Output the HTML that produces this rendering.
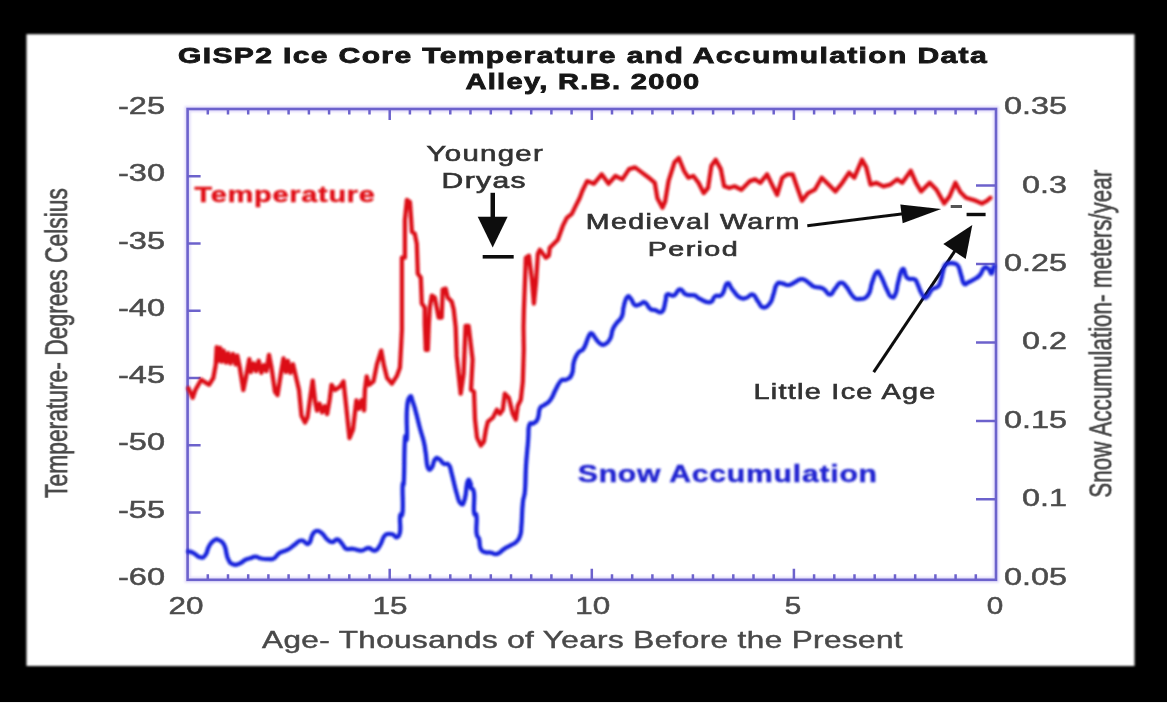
<!DOCTYPE html>
<html><head><meta charset="utf-8"><style>
html,body{margin:0;padding:0;background:#000;width:1167px;height:703px;overflow:hidden}
svg{position:absolute;left:0;top:0;display:block}
text{font-family:"Liberation Sans",sans-serif}
</style></head><body>
<svg width="1167" height="703" viewBox="0 0 1167 703">
<defs>
<filter id="b1" x="-5%" y="-5%" width="110%" height="110%"><feGaussianBlur stdDeviation="0.75 0.65"/></filter>
<filter id="b3" x="-2%" y="-2%" width="104%" height="104%"><feGaussianBlur stdDeviation="1.1"/></filter>
<filter id="b2" x="-5%" y="-5%" width="110%" height="110%"><feGaussianBlur stdDeviation="1.1 0.9"/></filter>
</defs>
<rect x="0" y="0" width="1167" height="703" fill="#000"/>
<rect x="26.5" y="34.2" width="1108" height="631.8" fill="#fff" filter="url(#b3)"/>
<rect x="0" y="702" width="1167" height="1" fill="#f4f4f4"/>
<g filter="url(#b2)"><rect x="187.6" y="109.0" width="808.4" height="470.79999999999995" fill="none" stroke="#e2dcfa" stroke-width="6"/></g>
<g filter="url(#b1)">
<rect x="187.6" y="109.0" width="808.4" height="470.79999999999995" fill="none" stroke="#6c62cc" stroke-width="2.6"/>
<path d="M207.8 579.8 v-5.5 M207.8 109.0 v5.5 M228.0 579.8 v-5.5 M228.0 109.0 v5.5 M248.2 579.8 v-5.5 M248.2 109.0 v5.5 M268.4 579.8 v-5.5 M268.4 109.0 v5.5 M288.6 579.8 v-5.5 M288.6 109.0 v5.5 M308.9 579.8 v-5.5 M308.9 109.0 v5.5 M329.1 579.8 v-5.5 M329.1 109.0 v5.5 M349.3 579.8 v-5.5 M349.3 109.0 v5.5 M369.5 579.8 v-5.5 M369.5 109.0 v5.5 M389.7 579.8 v-11 M389.7 109.0 v11 M409.9 579.8 v-5.5 M409.9 109.0 v5.5 M430.1 579.8 v-5.5 M430.1 109.0 v5.5 M450.3 579.8 v-5.5 M450.3 109.0 v5.5 M470.5 579.8 v-5.5 M470.5 109.0 v5.5 M490.8 579.8 v-5.5 M490.8 109.0 v5.5 M511.0 579.8 v-5.5 M511.0 109.0 v5.5 M531.2 579.8 v-5.5 M531.2 109.0 v5.5 M551.4 579.8 v-5.5 M551.4 109.0 v5.5 M571.6 579.8 v-5.5 M571.6 109.0 v5.5 M591.8 579.8 v-11 M591.8 109.0 v11 M612.0 579.8 v-5.5 M612.0 109.0 v5.5 M632.2 579.8 v-5.5 M632.2 109.0 v5.5 M652.4 579.8 v-5.5 M652.4 109.0 v5.5 M672.6 579.8 v-5.5 M672.6 109.0 v5.5 M692.9 579.8 v-5.5 M692.9 109.0 v5.5 M713.1 579.8 v-5.5 M713.1 109.0 v5.5 M733.3 579.8 v-5.5 M733.3 109.0 v5.5 M753.5 579.8 v-5.5 M753.5 109.0 v5.5 M773.7 579.8 v-5.5 M773.7 109.0 v5.5 M793.9 579.8 v-11 M793.9 109.0 v11 M814.1 579.8 v-5.5 M814.1 109.0 v5.5 M834.3 579.8 v-5.5 M834.3 109.0 v5.5 M854.5 579.8 v-5.5 M854.5 109.0 v5.5 M874.7 579.8 v-5.5 M874.7 109.0 v5.5 M895.0 579.8 v-5.5 M895.0 109.0 v5.5 M915.2 579.8 v-5.5 M915.2 109.0 v5.5 M935.4 579.8 v-5.5 M935.4 109.0 v5.5 M955.6 579.8 v-5.5 M955.6 109.0 v5.5 M975.8 579.8 v-5.5 M975.8 109.0 v5.5 M187.6 176.3 h13 M187.6 243.5 h13 M187.6 310.8 h13 M187.6 378.0 h13 M187.6 445.3 h13 M187.6 512.5 h13 M996.0 185.5 h-20 M996.0 263.9 h-20 M996.0 342.4 h-20 M996.0 420.9 h-20 M996.0 499.3 h-20" stroke="#6c62cc" stroke-width="2.5" fill="none"/>
<g><text x="165" y="114.0" font-size="24.5" fill="#4c4c4c" stroke="#4c4c4c" stroke-width="0.5" text-anchor="end" textLength="47" lengthAdjust="spacingAndGlyphs">-25</text><text x="165" y="181.3" font-size="24.5" fill="#4c4c4c" stroke="#4c4c4c" stroke-width="0.5" text-anchor="end" textLength="47" lengthAdjust="spacingAndGlyphs">-30</text><text x="165" y="248.5" font-size="24.5" fill="#4c4c4c" stroke="#4c4c4c" stroke-width="0.5" text-anchor="end" textLength="47" lengthAdjust="spacingAndGlyphs">-35</text><text x="165" y="315.8" font-size="24.5" fill="#4c4c4c" stroke="#4c4c4c" stroke-width="0.5" text-anchor="end" textLength="47" lengthAdjust="spacingAndGlyphs">-40</text><text x="165" y="383.0" font-size="24.5" fill="#4c4c4c" stroke="#4c4c4c" stroke-width="0.5" text-anchor="end" textLength="47" lengthAdjust="spacingAndGlyphs">-45</text><text x="165" y="450.3" font-size="24.5" fill="#4c4c4c" stroke="#4c4c4c" stroke-width="0.5" text-anchor="end" textLength="47" lengthAdjust="spacingAndGlyphs">-50</text><text x="165" y="517.5" font-size="24.5" fill="#4c4c4c" stroke="#4c4c4c" stroke-width="0.5" text-anchor="end" textLength="47" lengthAdjust="spacingAndGlyphs">-55</text><text x="165" y="584.8" font-size="24.5" fill="#4c4c4c" stroke="#4c4c4c" stroke-width="0.5" text-anchor="end" textLength="47" lengthAdjust="spacingAndGlyphs">-60</text><text x="1067" y="114.0" font-size="24.5" fill="#4c4c4c" stroke="#4c4c4c" stroke-width="0.5" text-anchor="end" textLength="63" lengthAdjust="spacingAndGlyphs">0.35</text><text x="1067" y="192.5" font-size="24.5" fill="#4c4c4c" stroke="#4c4c4c" stroke-width="0.5" text-anchor="end" textLength="45" lengthAdjust="spacingAndGlyphs">0.3</text><text x="1067" y="270.9" font-size="24.5" fill="#4c4c4c" stroke="#4c4c4c" stroke-width="0.5" text-anchor="end" textLength="63" lengthAdjust="spacingAndGlyphs">0.25</text><text x="1067" y="349.4" font-size="24.5" fill="#4c4c4c" stroke="#4c4c4c" stroke-width="0.5" text-anchor="end" textLength="45" lengthAdjust="spacingAndGlyphs">0.2</text><text x="1067" y="427.9" font-size="24.5" fill="#4c4c4c" stroke="#4c4c4c" stroke-width="0.5" text-anchor="end" textLength="63" lengthAdjust="spacingAndGlyphs">0.15</text><text x="1067" y="506.3" font-size="24.5" fill="#4c4c4c" stroke="#4c4c4c" stroke-width="0.5" text-anchor="end" textLength="45" lengthAdjust="spacingAndGlyphs">0.1</text><text x="1067" y="584.8" font-size="24.5" fill="#4c4c4c" stroke="#4c4c4c" stroke-width="0.5" text-anchor="end" textLength="63" lengthAdjust="spacingAndGlyphs">0.05</text><text x="186" y="613.8" font-size="24.5" fill="#4c4c4c" stroke="#4c4c4c" stroke-width="0.5" text-anchor="middle" textLength="35" lengthAdjust="spacingAndGlyphs">20</text><text x="390" y="613.8" font-size="24.5" fill="#4c4c4c" stroke="#4c4c4c" stroke-width="0.5" text-anchor="middle" textLength="35" lengthAdjust="spacingAndGlyphs">15</text><text x="592.8" y="613.8" font-size="24.5" fill="#4c4c4c" stroke="#4c4c4c" stroke-width="0.5" text-anchor="middle" textLength="35" lengthAdjust="spacingAndGlyphs">10</text><text x="792.9" y="613.8" font-size="24.5" fill="#4c4c4c" stroke="#4c4c4c" stroke-width="0.5" text-anchor="middle" textLength="16.5" lengthAdjust="spacingAndGlyphs">5</text><text x="995.1" y="613.8" font-size="24.5" fill="#4c4c4c" stroke="#4c4c4c" stroke-width="0.5" text-anchor="middle" textLength="16.5" lengthAdjust="spacingAndGlyphs">0</text><g transform="translate(67,498) rotate(-90) scale(1,1.45)"><text x="0" y="0" font-size="21.5" fill="#484848" stroke="#484848" stroke-width="0.45" textLength="310" lengthAdjust="spacingAndGlyphs">Temperature- Degrees Celsius</text></g><g transform="translate(1111.2,497.7) rotate(-90) scale(1,1.45)"><text x="0" y="0" font-size="21.5" fill="#484848" stroke="#484848" stroke-width="0.45" textLength="328" lengthAdjust="spacingAndGlyphs">Snow Accumulation- meters/year</text></g></g>
<g><text x="178.0" y="62.8" font-size="21.86" font-weight="bold" fill="#141414" letter-spacing="1.0" textLength="810.0" lengthAdjust="spacingAndGlyphs" stroke="#141414" stroke-width="0.8">GISP2 Ice Core Temperature and Accumulation Data</text><text x="465.4" y="88.5" font-size="22.29" font-weight="bold" fill="#141414" letter-spacing="1.0" textLength="235.2" lengthAdjust="spacingAndGlyphs" stroke="#141414" stroke-width="0.8">Alley, R.B. 2000</text><text x="262.0" y="648.4" font-size="23.29" font-weight="normal" fill="#484848" letter-spacing="0.3" textLength="641.0" lengthAdjust="spacingAndGlyphs" stroke="#484848" stroke-width="0.45">Age- Thousands of Years Before the Present</text><text x="426.6" y="160.9" font-size="22.71" font-weight="normal" fill="#333" letter-spacing="1.0" textLength="117.4" lengthAdjust="spacingAndGlyphs" stroke="#333" stroke-width="0.65">Younger</text><text x="441.6" y="187.8" font-size="21.43" font-weight="normal" fill="#333" letter-spacing="1.0" textLength="85.4" lengthAdjust="spacingAndGlyphs" stroke="#333" stroke-width="0.65">Dryas</text><text x="585.8" y="229.2" font-size="21.57" font-weight="normal" fill="#333" letter-spacing="1.0" textLength="214.8" lengthAdjust="spacingAndGlyphs" stroke="#333" stroke-width="0.65">Medieval Warm</text><text x="647.8" y="256" font-size="20.71" font-weight="normal" fill="#333" letter-spacing="1.0" textLength="91.2" lengthAdjust="spacingAndGlyphs" stroke="#333" stroke-width="0.65">Period</text><text x="753.4" y="399.2" font-size="22.43" font-weight="normal" fill="#333" letter-spacing="1.0" textLength="183.2" lengthAdjust="spacingAndGlyphs" stroke="#333" stroke-width="0.65">Little Ice Age</text></g>
<g fill="#111"><rect x="490.5" y="192.8" width="4.5" height="26"/><path d="M477.7 216.7 L507.6 216.7 L492.7 247.5Z"/><rect x="482.7" y="255" width="31" height="3.6"/><path d="M807.3 225.8 L903.5 213.7" stroke="#111" stroke-width="3" fill="none"/><path d="M941.2 208.9 L902.7 223.3 L900.3 204.5Z"/><path d="M873.7 372.2 L955.6 249.9" stroke="#111" stroke-width="3" fill="none"/><path d="M972.3 225.0 L965.7 259.1 L943.3 244.1Z"/><rect x="950.7" y="205" width="11.3" height="3" fill="#555"/><rect x="966.6" y="212.8" width="19" height="3.4"/></g>
</g>
<g filter="url(#b2)">
<g><text x="194.6" y="202.4" font-size="22.0" font-weight="bold" fill="#e00c16" letter-spacing="0.6" textLength="181.0" lengthAdjust="spacingAndGlyphs" stroke="#e00c16" stroke-width="0.4">Temperature</text><text x="577.8" y="482.4" font-size="23.43" font-weight="bold" fill="#2024d0" letter-spacing="0.6" textLength="300.0" lengthAdjust="spacingAndGlyphs" stroke="#2024d0" stroke-width="0.4">Snow Accumulation</text></g>
<path d="M188.4 388.3 L192.7 397.7 L195.3 390.0 L201.3 379.7 L206.4 383.1 L209.0 384.8 L213.3 378.0 L215.8 364.3 L216.7 347.1 L218.4 360.8 L220.1 348.0 L221.8 361.7 L223.6 350.6 L226.1 362.6 L228.2 353.1 L230.4 363.4 L233.0 354.0 L235.6 364.3 L237.3 355.7 L239.8 367.7 L243.3 390.0 L245.8 378.0 L249.3 359.1 L251.0 372.0 L253.6 363.4 L256.1 371.1 L258.7 360.8 L261.3 372.8 L263.8 365.1 L266.4 371.1 L269.0 354.9 L271.5 367.7 L275.0 391.7 L277.5 395.1 L281.0 372.8 L283.5 358.3 L285.8 372.0 L287.8 360.8 L290.4 372.8 L293.0 364.3 L295.5 374.9 L299.0 390.0 L301.5 415.7 L305.0 422.5 L307.5 417.4 L310.1 398.6 L312.7 380.6 L315.2 402.0 L317.0 410.5 L319.5 403.7 L322.1 412.3 L324.7 406.3 L327.2 414.0 L329.8 398.6 L331.5 384.8 L335.0 390.0 L340.1 386.6 L343.5 381.4 L346.1 405.4 L349.5 438.0 L353.0 429.4 L356.4 400.3 L359.0 408.8 L361.5 400.3 L364.1 410.5 L364.9 390.0 L366.7 376.3 L369.2 384.8 L373.5 381.4 L376.9 364.3 L381.2 350.6 L384.0 365.8 L387.0 377.8 L391.9 383.7 L396.9 375.8 L399.9 367.8 L400.9 349.9 L401.9 330.0 L401.9 257.7 L404.9 257.7 L404.9 219.9 L406.9 200.0 L409.9 202.0 L410.9 215.9 L411.9 231.8 L414.8 233.8 L416.8 243.8 L417.8 273.7 L420.8 277.6 L421.8 303.5 L424.8 307.5 L424.8 324.0 L425.8 349.9 L427.8 349.9 L428.8 324.0 L429.8 307.5 L431.8 295.6 L434.8 297.6 L438.7 317.5 L441.7 317.5 L442.7 289.6 L445.7 288.6 L447.7 297.6 L451.7 301.6 L453.7 309.5 L455.7 327.5 L456.7 355.9 L460.7 393.7 L463.6 373.8 L465.6 326.0 L468.6 326.0 L472.6 359.8 L471.0 389.8 L474.0 391.8 L475.0 419.6 L477.0 437.6 L480.9 445.5 L483.9 441.6 L485.9 429.6 L487.9 421.6 L492.9 417.6 L496.9 409.7 L499.9 413.7 L502.8 409.7 L504.8 393.7 L508.8 397.7 L512.8 413.7 L515.8 419.6 L517.8 405.7 L520.8 399.7 L522.8 381.8 L523.8 349.9 L523.5 327.5 L523.9 309.5 L525.9 257.7 L528.9 255.7 L531.9 279.6 L533.9 303.5 L535.9 283.6 L537.9 253.7 L539.9 249.8 L542.9 253.7 L545.9 257.7 L548.8 255.7 L549.8 247.8 L553.8 243.8 L557.8 239.8 L562.8 225.9 L566.8 217.9 L571.8 213.9 L575.7 205.9 L579.7 198.0 L582.7 190.0 L582.9 189.7 L587.1 181.1 L594.0 183.7 L601.7 174.3 L608.6 183.7 L615.4 176.0 L622.3 179.4 L629.1 169.1 L635.1 167.4 L642.0 172.6 L648.8 177.7 L654.8 182.8 L657.4 198.3 L662.5 207.7 L665.1 201.7 L668.5 181.1 L674.5 162.3 L678.8 158.0 L684.0 170.8 L688.3 177.7 L693.4 176.0 L698.5 182.8 L703.7 193.1 L708.0 188.0 L711.4 165.7 L715.7 159.7 L720.8 169.1 L724.2 186.3 L729.4 188.0 L734.5 186.3 L741.4 189.7 L749.9 181.1 L755.1 179.4 L760.2 182.8 L767.1 174.3 L772.0 184.6 L777.1 194.8 L782.3 177.7 L787.4 174.3 L792.6 174.3 L796.8 186.3 L802.0 200.8 L808.0 193.1 L814.8 189.7 L821.7 177.7 L828.6 184.6 L835.4 191.4 L842.3 182.8 L849.1 172.6 L854.3 177.7 L862.0 159.7 L866.3 167.4 L870.5 184.6 L876.5 182.8 L883.4 186.3 L890.2 184.6 L897.1 179.4 L902.2 182.8 L910.8 170.8 L916.0 182.8 L921.1 191.4 L929.7 182.8 L936.5 189.7 L944.2 203.4 L949.4 196.6 L955.4 182.8 L960.3 192.1 L966.0 197.8 L973.9 200.1 L981.9 203.5 L986.5 201.2 L990.4 197.8" fill="none" stroke="#dc0e18" stroke-width="4.3" stroke-linejoin="round" stroke-linecap="round"/>
<path d="M188.4 551.4 C189.8 551.9 190.4 551.5 193.6 553.1 C196.8 554.7 197.2 557.0 200.4 557.4 C203.6 557.9 203.3 557.8 205.6 554.8 C207.9 551.9 206.7 550.2 209.0 546.3 C211.3 542.4 211.4 541.9 214.1 540.3 C216.9 538.7 216.5 538.9 219.3 540.3 C222.0 541.6 222.1 540.6 224.4 545.4 C226.7 550.2 225.6 553.2 227.8 558.3 C230.1 563.3 229.8 562.9 233.0 564.3 C236.2 565.6 236.6 564.6 239.8 563.4 C243.0 562.3 242.2 561.4 245.0 560.0 C247.7 558.6 247.4 559.2 250.1 558.3 C252.9 557.4 252.5 556.6 255.3 556.6 C258.0 556.6 257.2 557.6 260.4 558.3 C263.6 559.0 263.6 559.1 267.3 559.1 C270.9 559.1 270.9 559.9 274.1 558.3 C277.3 556.7 275.6 555.4 279.3 553.1 C282.9 550.8 283.7 552.0 287.8 549.7 C291.9 547.4 291.0 547.1 294.7 544.6 C298.3 542.0 297.9 540.5 301.5 540.3 C305.2 540.0 305.4 545.3 308.4 543.7 C311.4 542.1 310.4 537.7 312.7 534.3 C315.0 530.8 314.4 531.1 317.0 530.8 C319.5 530.6 319.4 531.1 322.1 533.4 C324.8 535.7 324.5 537.1 327.2 539.4 C330.0 541.7 329.6 542.0 332.4 542.0 C335.1 542.0 334.8 538.7 337.5 539.4 C340.3 540.1 340.4 542.0 342.7 544.6 C345.0 547.1 343.4 547.7 346.1 548.8 C348.8 550.0 348.8 548.4 353.0 548.8 C357.1 549.3 357.4 550.8 361.5 550.6 C365.6 550.3 364.7 548.0 368.4 548.0 C372.0 548.0 372.0 551.5 375.2 550.6 C378.4 549.6 378.0 548.3 380.4 544.6 C382.7 540.8 382.0 539.4 384.0 536.6 C386.0 533.7 385.5 534.5 387.9 534.0 C390.3 533.5 390.6 533.8 393.0 534.6 C395.4 535.5 395.0 538.1 396.9 537.2 C398.7 536.3 399.2 537.1 400.1 531.4 C400.9 525.8 399.4 521.1 400.1 516.0 C400.7 510.8 401.9 520.0 402.6 512.1 C403.3 504.3 402.3 495.1 402.6 486.4 C403.0 477.8 403.3 492.0 403.9 479.6 C404.5 467.2 404.1 450.9 404.9 439.8 C405.7 428.6 406.3 445.7 406.9 437.8 C407.4 429.8 406.1 420.8 406.9 409.9 C407.7 399.0 408.3 399.1 409.9 396.9 C411.5 394.8 411.3 397.9 412.8 401.9 C414.4 405.9 414.0 405.0 415.8 411.9 C417.7 418.8 417.7 419.8 419.8 427.8 C421.9 435.8 422.2 434.8 423.8 441.8 C425.4 448.7 424.7 446.8 425.8 453.7 C426.9 460.6 426.2 463.9 427.8 467.6 C429.4 471.4 429.9 469.8 431.8 467.6 C433.6 465.5 432.9 462.1 434.8 459.7 C436.6 457.3 436.4 457.6 438.7 458.7 C441.1 459.7 441.1 462.1 443.7 463.7 C446.4 465.3 446.6 462.0 448.7 464.7 C450.8 467.3 449.6 465.9 451.7 473.6 C453.8 481.3 454.3 485.6 456.7 493.5 C459.1 501.5 458.5 501.9 460.7 503.5 C462.8 505.1 462.8 505.4 464.6 499.5 C466.5 493.7 466.0 485.8 467.6 481.6 C469.2 477.3 469.8 482.0 470.6 483.6 C471.5 485.2 469.9 485.2 470.8 487.7 C471.7 490.2 473.1 486.3 474.0 492.9 C474.8 499.4 473.3 506.0 474.0 512.1 C474.7 518.3 475.9 510.5 476.5 516.0 C477.2 521.5 475.9 526.5 476.5 532.7 C477.2 538.9 478.1 535.0 479.1 539.1 C480.1 543.2 479.0 544.7 480.4 548.1 C481.8 551.6 481.5 550.8 484.3 552.0 C487.0 553.2 487.3 552.1 490.7 552.6 C494.1 553.1 493.7 554.8 497.1 553.9 C500.5 553.1 500.1 551.6 503.5 549.4 C507.0 547.2 506.5 547.6 510.0 545.6 C513.4 543.5 513.6 544.4 516.4 541.7 C519.1 539.0 518.9 539.7 520.2 535.3 C521.6 530.8 520.8 533.6 521.5 525.0 C522.2 516.4 521.9 512.4 522.8 503.1 C523.7 493.9 524.2 500.2 525.0 490.3 C525.8 480.3 525.2 479.2 526.0 465.9 C526.8 452.5 527.3 451.1 528.1 440.3 C529.0 429.5 527.8 429.9 529.2 425.3 C530.6 420.8 531.2 424.9 533.5 423.2 C535.7 421.5 536.0 422.9 537.7 418.9 C539.4 415.0 538.2 412.0 539.9 408.3 C541.6 404.6 541.3 407.3 544.1 405.1 C547.0 402.8 547.4 404.0 550.5 399.7 C553.7 395.5 553.0 394.2 555.9 389.1 C558.7 384.0 558.4 383.1 561.2 380.5 C564.1 378.0 563.7 381.2 566.5 379.5 C569.4 377.8 569.9 379.0 571.9 374.1 C573.9 369.3 572.3 367.0 574.0 361.3 C575.7 355.6 575.7 356.2 578.3 352.8 C580.8 349.4 580.9 352.7 583.6 348.5 C586.3 344.4 586.3 341.2 588.4 337.1 C590.5 333.0 589.7 332.9 591.6 333.3 C593.5 333.6 593.2 335.7 595.5 338.4 C597.7 341.1 597.4 342.0 600.0 343.5 C602.5 345.1 602.4 345.6 605.1 344.2 C607.9 342.8 608.2 342.3 610.3 338.4 C612.3 334.5 611.1 333.5 612.8 329.4 C614.5 325.3 614.3 326.4 616.7 323.0 C619.1 319.6 619.9 321.0 621.8 316.6 C623.7 312.1 622.4 311.4 623.8 306.3 C625.1 301.1 625.1 299.3 627.0 297.3 C628.9 295.2 628.8 296.5 630.8 298.6 C632.9 300.6 632.3 303.4 634.7 305.0 C637.1 306.5 637.1 305.0 639.8 304.3 C642.6 303.7 642.2 301.2 645.0 302.4 C647.7 303.6 647.4 306.8 650.1 308.8 C652.8 310.9 652.1 309.4 655.2 310.1 C658.4 310.9 659.3 314.0 662.0 311.7 C664.7 309.4 664.1 306.0 665.4 301.4 C666.8 296.8 664.9 296.2 667.1 294.6 C669.4 293.0 670.6 296.8 674.0 295.4 C677.4 294.0 676.8 289.6 680.0 289.4 C683.2 289.2 682.1 293.0 686.0 294.6 C689.9 296.2 690.9 294.3 694.6 295.4 C698.2 296.6 695.6 297.0 699.7 298.8 C703.8 300.7 705.9 303.0 710.0 302.3 C714.1 301.6 711.9 298.3 715.1 296.3 C718.3 294.2 718.8 298.0 722.0 294.6 C725.2 291.1 724.4 284.8 727.1 283.4 C729.9 282.0 729.1 285.8 732.3 289.4 C735.5 293.1 735.5 294.8 739.1 297.1 C742.8 299.4 742.3 298.7 746.0 298.0 C749.6 297.3 749.6 293.6 752.8 294.6 C756.0 295.5 755.2 298.0 758.0 301.4 C760.7 304.8 759.9 307.0 763.1 307.4 C766.3 307.9 767.2 306.6 770.0 303.1 C772.7 299.7 771.6 299.6 773.4 294.6 C775.2 289.5 774.5 287.2 776.8 284.3 C779.1 281.3 778.8 283.2 782.0 283.4 C785.2 283.6 785.2 285.6 788.8 285.1 C792.5 284.7 792.0 283.3 795.7 281.7 C799.3 280.1 798.9 278.7 802.5 279.1 C806.2 279.6 806.2 281.4 809.4 283.4 C812.6 285.5 810.9 285.5 814.5 286.8 C818.2 288.2 819.0 286.5 823.1 288.6 C827.2 290.6 826.7 294.6 829.9 294.6 C833.1 294.6 832.1 291.8 835.1 288.6 C838.1 285.4 837.9 282.8 841.1 282.6 C844.3 282.3 845.4 286.2 847.1 287.7 C848.8 289.2 845.8 285.6 847.5 288.1 C849.1 290.5 850.2 293.9 853.3 296.8 C856.4 299.7 855.2 299.4 859.1 299.0 C863.0 298.6 864.4 299.8 867.9 295.4 C871.4 290.9 869.9 288.5 872.2 282.2 C874.6 276.0 874.3 273.6 876.6 272.0 C878.9 270.5 878.3 271.8 881.0 276.4 C883.7 281.1 884.1 284.1 886.8 289.5 C889.5 295.0 888.8 295.6 891.2 296.8 C893.5 298.0 893.6 298.2 895.5 293.9 C897.5 289.6 896.5 287.4 898.5 280.8 C900.4 274.2 900.5 269.9 902.8 269.1 C905.2 268.4 904.1 275.2 907.2 277.9 C910.3 280.6 911.8 277.8 914.5 279.3 C917.2 280.9 915.5 279.8 917.4 283.7 C919.3 287.6 919.4 290.2 921.8 293.9 C924.1 297.6 923.4 298.7 926.1 297.5 C928.9 296.4 928.9 292.4 932.0 289.5 C935.1 286.6 935.5 288.9 937.8 286.6 C940.1 284.3 939.2 285.4 940.7 280.8 C942.3 276.1 942.1 273.6 943.6 269.1 C945.2 264.7 943.8 265.6 946.5 264.0 C949.3 262.5 950.7 262.7 953.8 263.3 C956.9 263.9 956.2 263.1 958.2 266.2 C960.1 269.3 959.5 270.3 961.1 275.0 C962.7 279.6 962.1 281.8 964.0 283.7 C966.0 285.6 965.7 283.4 968.4 282.2 C971.1 281.1 971.1 281.3 974.2 279.3 C977.3 277.4 977.3 278.1 980.0 275.0 C982.8 271.9 982.1 269.2 984.4 267.7 C986.7 266.1 986.8 267.6 988.8 269.1 C990.7 270.7 990.3 274.3 991.7 273.5 C993.0 272.7 993.3 268.2 993.9 266.2" fill="none" stroke="#1422dc" stroke-width="4.3" stroke-linejoin="round" stroke-linecap="round"/>
</g>
</svg>
</body></html>
